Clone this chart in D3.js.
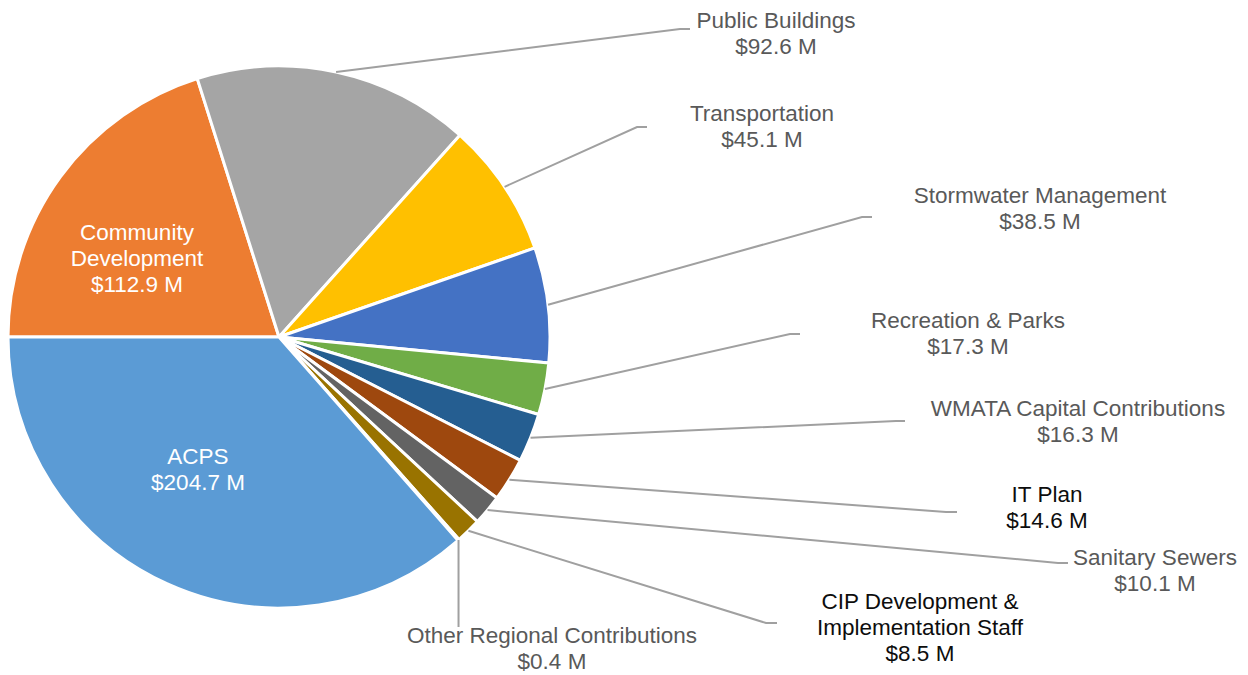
<!DOCTYPE html>
<html>
<head>
<meta charset="utf-8">
<script src="https://cdn.jsdelivr.net/npm/d3@7"></script>
<style>
  body { margin: 0; background: #fff; }
  svg { font-family: "Liberation Sans", Arial, sans-serif; }
</style>
</head>
<body>
<svg width="1248" height="675"></svg>
<script>
// slice order, clockwise from 9 o'clock
const categories = ["Community Development", "Public Buildings", "Transportation",
  "Stormwater Management", "Recreation & Parks", "WMATA Capital Contributions",
  "IT Plan", "Sanitary Sewers", "CIP Development & Implementation Staff",
  "Other Regional Contributions", "ACPS"];
const values = [112.9, 92.6, 45.1, 38.5, 17.3, 16.3, 14.6, 10.1, 8.5, 0.4, 204.7];
const nameLines = [["Community", "Development"], ["Public Buildings"], ["Transportation"],
  ["Stormwater Management"], ["Recreation & Parks"], ["WMATA Capital Contributions"],
  ["IT Plan"], ["Sanitary Sewers"], ["CIP Development &", "Implementation Staff"],
  ["Other Regional Contributions"], ["ACPS"]];
const colors = ["#ED7D31", "#A5A5A5", "#FFC000", "#4472C4", "#70AD47", "#255E91",
  "#9E480E", "#636363", "#997300", "#264478", "#5B9BD5"];

// label placement (layout only): text centre x, first line y, leader elbow, leader end
const labelLayout = {
  "Community Development": { inside: true, x: 137, y: 232 },
  "ACPS": { inside: true, x: 198, y: 456 },
  "Public Buildings": { x: 776, y: 20, elbow: [680, 29], end: [690, 29] },
  "Transportation": { x: 762, y: 113, elbow: [637, 127], end: [647, 127] },
  "Stormwater Management": { x: 1040, y: 195, elbow: [862, 217], end: [872, 217] },
  "Recreation & Parks": { x: 968, y: 320, elbow: [790, 334], end: [800, 334] },
  "WMATA Capital Contributions": { x: 1078, y: 408, elbow: [896, 421], end: [905, 421] },
  "IT Plan": { x: 1047, y: 494, elbow: [946, 512], end: [957, 512], dark: true },
  "Sanitary Sewers": { x: 1155, y: 557, elbow: [1058, 563], end: [1068, 563] },
  "CIP Development & Implementation Staff": { x: 920, y: 601, elbow: [766, 623], end: [777, 623], dark: true },
  "Other Regional Contributions": { x: 552, y: 635, elbow: null, end: null }
};

const cx = 279, cy = 337, radius = 271, lineH = 26;

const svg = d3.select("svg");
const g = svg.append("g").attr("transform", `translate(${cx},${cy})`);

const rows = categories.map((c, i) => ({ name: c, value: values[i], lines: nameLines[i], color: colors[i] }));

const pie = d3.pie()
  .sort(null)
  .value(d => d.value)
  .startAngle(1.5 * Math.PI)
  .endAngle(3.5 * Math.PI);

const arc = d3.arc().innerRadius(0).outerRadius(radius);
const edge = d3.arc().innerRadius(radius).outerRadius(radius);

const arcs = pie(rows);

g.selectAll("path.slice")
  .data(arcs)
  .enter()
  .append("path")
  .attr("class", "slice")
  .attr("d", arc)
  .attr("fill", d => d.data.color)
  .attr("stroke", "#fff")
  .attr("stroke-width", 3)
  .attr("stroke-linejoin", "round");

// leader lines
arcs.forEach(d => {
  const lay = labelLayout[d.data.name];
  if (lay.inside) return;
  const p = edge.centroid(d);
  const start = [p[0] + cx, p[1] + cy];
  let pts;
  if (lay.elbow) {
    pts = [start, lay.elbow, lay.end];
  } else {
    pts = [start, [start[0], lay.y - 8]];
  }
  svg.append("path")
    .attr("d", d3.line()(pts))
    .attr("fill", "none")
    .attr("stroke", "#A0A0A0")
    .attr("stroke-width", 2);
});

// labels
arcs.forEach(d => {
  const lay = labelLayout[d.data.name];
  const fill = lay.inside ? "#fff" : (lay.dark ? "#0d0d0d" : "#595959");
  const lines = d.data.lines.concat(["$" + d3.format(".1f")(d.data.value) + " M"]);
  const t = svg.append("text")
    .attr("text-anchor", "middle")
    .attr("font-size", 22.5)
    .attr("fill", fill);
  lines.forEach((s, i) => {
    t.append("tspan")
      .attr("x", lay.x)
      .attr("y", lay.y + i * lineH)
      .attr("dy", "0.36em")
      .text(s);
  });
});
</script>
</body>
</html>
